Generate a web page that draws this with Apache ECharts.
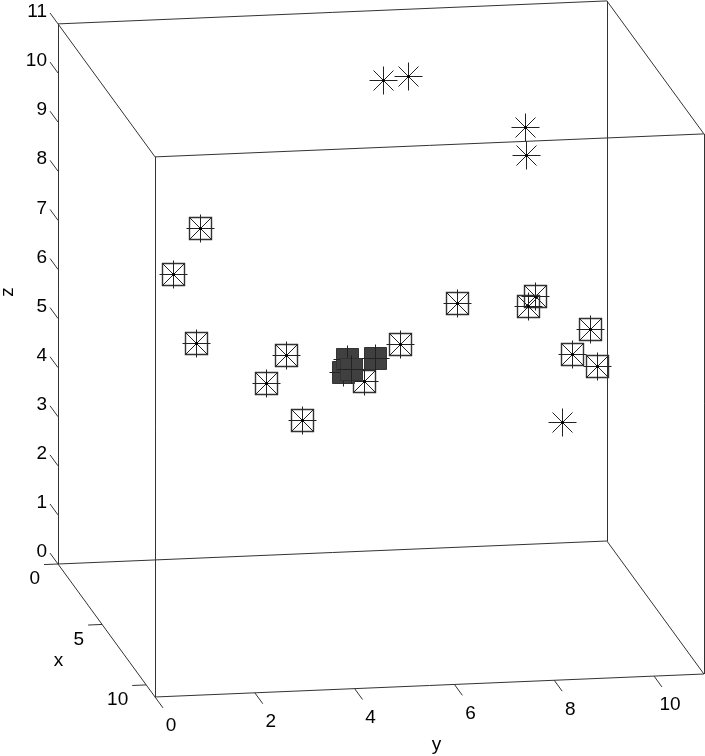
<!DOCTYPE html>
<html>
<head>
<meta charset="utf-8">
<script src="https://cdn.jsdelivr.net/npm/echarts@6/dist/echarts.min.js"></script>
<style>
html, body { margin: 0; padding: 0; background: #fff; }
#chart { width: 705px; height: 756px; }
</style>
</head>
<body>
<div id="chart"></div>
<script>
// axis ranges and ticks
var axisMin = 0, axisMax = 11;
var xTicks = [0, 5, 10];
var yTicks = [0, 2, 4, 6, 8, 10];
var zTicks = [0, 1, 2, 3, 4, 5, 6, 7, 8, 9, 10, 11];

// boxed points (square + asterisk)
var boxX = [3, 6, 8, 4, 7, 9, 2, 3, 4, 6, 8, 9, 5, 8];
var boxY = [2.31, 1.24, 1.35, 3.87, 2.93, 3.29, 7.65, 9.03, 8.71, 9.60, 8.89, 9.21, 5.96, 4.71];
var boxZ = [7.48, 7.33, 6.41, 5.08, 5.29, 5.01, 5.48, 5.81, 5.87, 5.85, 5.87, 5.86, 5.46, 5.50];

// asterisk only
var starX = [2, 1, 3, 4, 7];
var starY = [6.15, 6.84, 8.83, 8.67, 8.87];
var starZ = [10.09, 9.89, 9.26, 8.95, 4.24];

// filled squares
var fillX = [7, 6, 6, 5];
var fillY = [4.47, 4.74, 4.82, 5.46];
var fillZ = [5.44, 5.45, 5.24, 5.19];

// view projection (orthographic, screen units)
var P0 = [58, 564];
var EX = [8.82, 12.09], EY = [49.9, -2.09], EZ = [0, -49.1];
function project(x, y, z) {
	return [P0[0] + x * EX[0] + y * EY[0] + z * EZ[0],
	        P0[1] + x * EX[1] + y * EY[1] + z * EZ[1]];
}

var font = '19px "Liberation Sans", Arial, Helvetica, sans-serif';
var ink = '#222';

// box edges
var edges = [];
[axisMin, axisMax].forEach(function (a) {
	[axisMin, axisMax].forEach(function (b) {
		edges.push({coords: [project(axisMin, a, b), project(axisMax, a, b)]});
		edges.push({coords: [project(a, axisMin, b), project(a, axisMax, b)]});
		edges.push({coords: [project(a, b, axisMin), project(a, b, axisMax)]});
	});
});

// tick marks
var ticks = [];
zTicks.forEach(function (v) {
	ticks.push({coords: [project(0, 0, v), project(-0.9, 0, v)]});
});
yTicks.forEach(function (v) {
	ticks.push({coords: [project(axisMax, v, 0), project(axisMax + 0.9, v, 0)]});
});
xTicks.forEach(function (v) {
	ticks.push({coords: [project(v, 0, 0), project(v, -0.28, 0)]});
});

// tick labels: [px, py, text, dx, dy, align]
var labels = [];
zTicks.forEach(function (v) {
	var p = project(0, 0, v);
	labels.push([p[0], p[1], String(v), -11, -12, 'right']);
});
yTicks.forEach(function (v) {
	var p = project(axisMax, v, 0);
	labels.push([p[0], p[1], String(v), 16, 29, 'center']);
});
xTicks.forEach(function (v) {
	var p = project(v, 0, 0);
	labels.push([p[0], p[1], String(v), -18, 15, 'right']);
});
var zt = project(0, 0, 5.5), xt = project(5.5, 0, 0), yt = project(axisMax, 5.5, 0);
var titles = [
	[zt[0], zt[1], 'z', -50, -2, 90],
	[xt[0], xt[1], 'x', -48, 30, 0],
	[yt[0], yt[1], 'y', 7, 59, 0]
];

function toPoints(xs, ys, zs) {
	return xs.map(function (x, i) { return project(x, ys[i], zs[i]); });
}

function seg(cx, cy, x1, y1, x2, y2) {
	return {type: 'line', shape: {x1: cx + x1, y1: cy + y1, x2: cx + x2, y2: cy + y2},
		style: {stroke: ink, lineWidth: 1}};
}

function renderBox(params, api) {
	var p = api.coord([api.value(0), api.value(1)]);
	var cx = Math.round(p[0]) + 0.5, cy = Math.round(p[1]) + 0.5;
	return {type: 'group', children: [
		{type: 'rect', shape: {x: cx - 11, y: cy - 11, width: 22, height: 22},
			style: {fill: null, stroke: '#333', lineWidth: 1.4}},
		seg(cx, cy, -14, 0, 14, 0),
		seg(cx, cy, 0, -14, 0, 14),
		seg(cx, cy, -11, -11, 11, 11),
		seg(cx, cy, -11, 11, 11, -11),
		{type: 'circle', shape: {cx: cx, cy: cy, r: 1.6}, style: {fill: '#000'}}
	]};
}

function renderStar(params, api) {
	var p = api.coord([api.value(0), api.value(1)]);
	var cx = Math.round(p[0]) + 0.5, cy = Math.round(p[1]) + 0.5;
	return {type: 'group', children: [
		seg(cx, cy, -14, 0, 14, 0),
		seg(cx, cy, 0, -14, 0, 14),
		seg(cx, cy, -10, -10, 10, 10),
		seg(cx, cy, -10, 10, 10, -10),
		{type: 'circle', shape: {cx: cx, cy: cy, r: 1.6}, style: {fill: '#000'}}
	]};
}

function renderFill(params, api) {
	var p = api.coord([api.value(0), api.value(1)]);
	var cx = Math.round(p[0]) + 0.5, cy = Math.round(p[1]) + 0.5;
	return {type: 'group', children: [
		{type: 'rect', shape: {x: cx - 11, y: cy - 11, width: 22, height: 22},
			style: {fill: '#404040', stroke: '#333', lineWidth: 1}},
		seg(cx, cy, -14, 0, 14, 0),
		seg(cx, cy, 0, -14, 0, 14)
	]};
}

function renderText(params, api) {
	var p = api.coord([api.value(0), api.value(1)]);
	var d = labels[params.dataIndex];
	return {type: 'text', x: p[0] + d[3], y: p[1] + d[4],
		style: {text: d[2], fill: '#000', font: font, align: d[5], verticalAlign: 'middle'}};
}

function renderTitle(params, api) {
	var p = api.coord([api.value(0), api.value(1)]);
	var d = titles[params.dataIndex];
	return {type: 'text', x: p[0] + d[3], y: p[1] + d[4], rotation: d[5] * Math.PI / 180,
		style: {text: d[2], fill: '#000', font: font, align: 'center', verticalAlign: 'middle'}};
}

var chart = echarts.init(document.getElementById('chart'), null, {renderer: 'canvas'});
var option = {
	animation: false,
	backgroundColor: '#fff',
	grid: {left: 0, top: 0, right: 0, bottom: 0},
	xAxis: {type: 'value', min: 0, max: 705, show: false},
	yAxis: {type: 'value', min: 0, max: 756, inverse: true, show: false},
	series: [
		{type: 'lines', coordinateSystem: 'cartesian2d', silent: true, data: edges,
			lineStyle: {color: '#333', width: 1, opacity: 1}},
		{type: 'lines', coordinateSystem: 'cartesian2d', silent: true, data: ticks,
			lineStyle: {color: '#333', width: 1, opacity: 1}},
		{type: 'custom', renderItem: renderText, clip: false, silent: true,
			data: labels.map(function (d) { return [d[0], d[1]]; })},
		{type: 'custom', renderItem: renderTitle, clip: false, silent: true,
			data: titles.map(function (d) { return [d[0], d[1]]; })},
		{type: 'custom', renderItem: renderBox, clip: false, silent: true,
			data: toPoints(boxX, boxY, boxZ)},
		{type: 'custom', renderItem: renderStar, clip: false, silent: true,
			data: toPoints(starX, starY, starZ)},
		{type: 'custom', renderItem: renderFill, clip: false, silent: true,
			data: toPoints(fillX, fillY, fillZ)}
	]
};
chart.setOption(option);
</script>
</body>
</html>
